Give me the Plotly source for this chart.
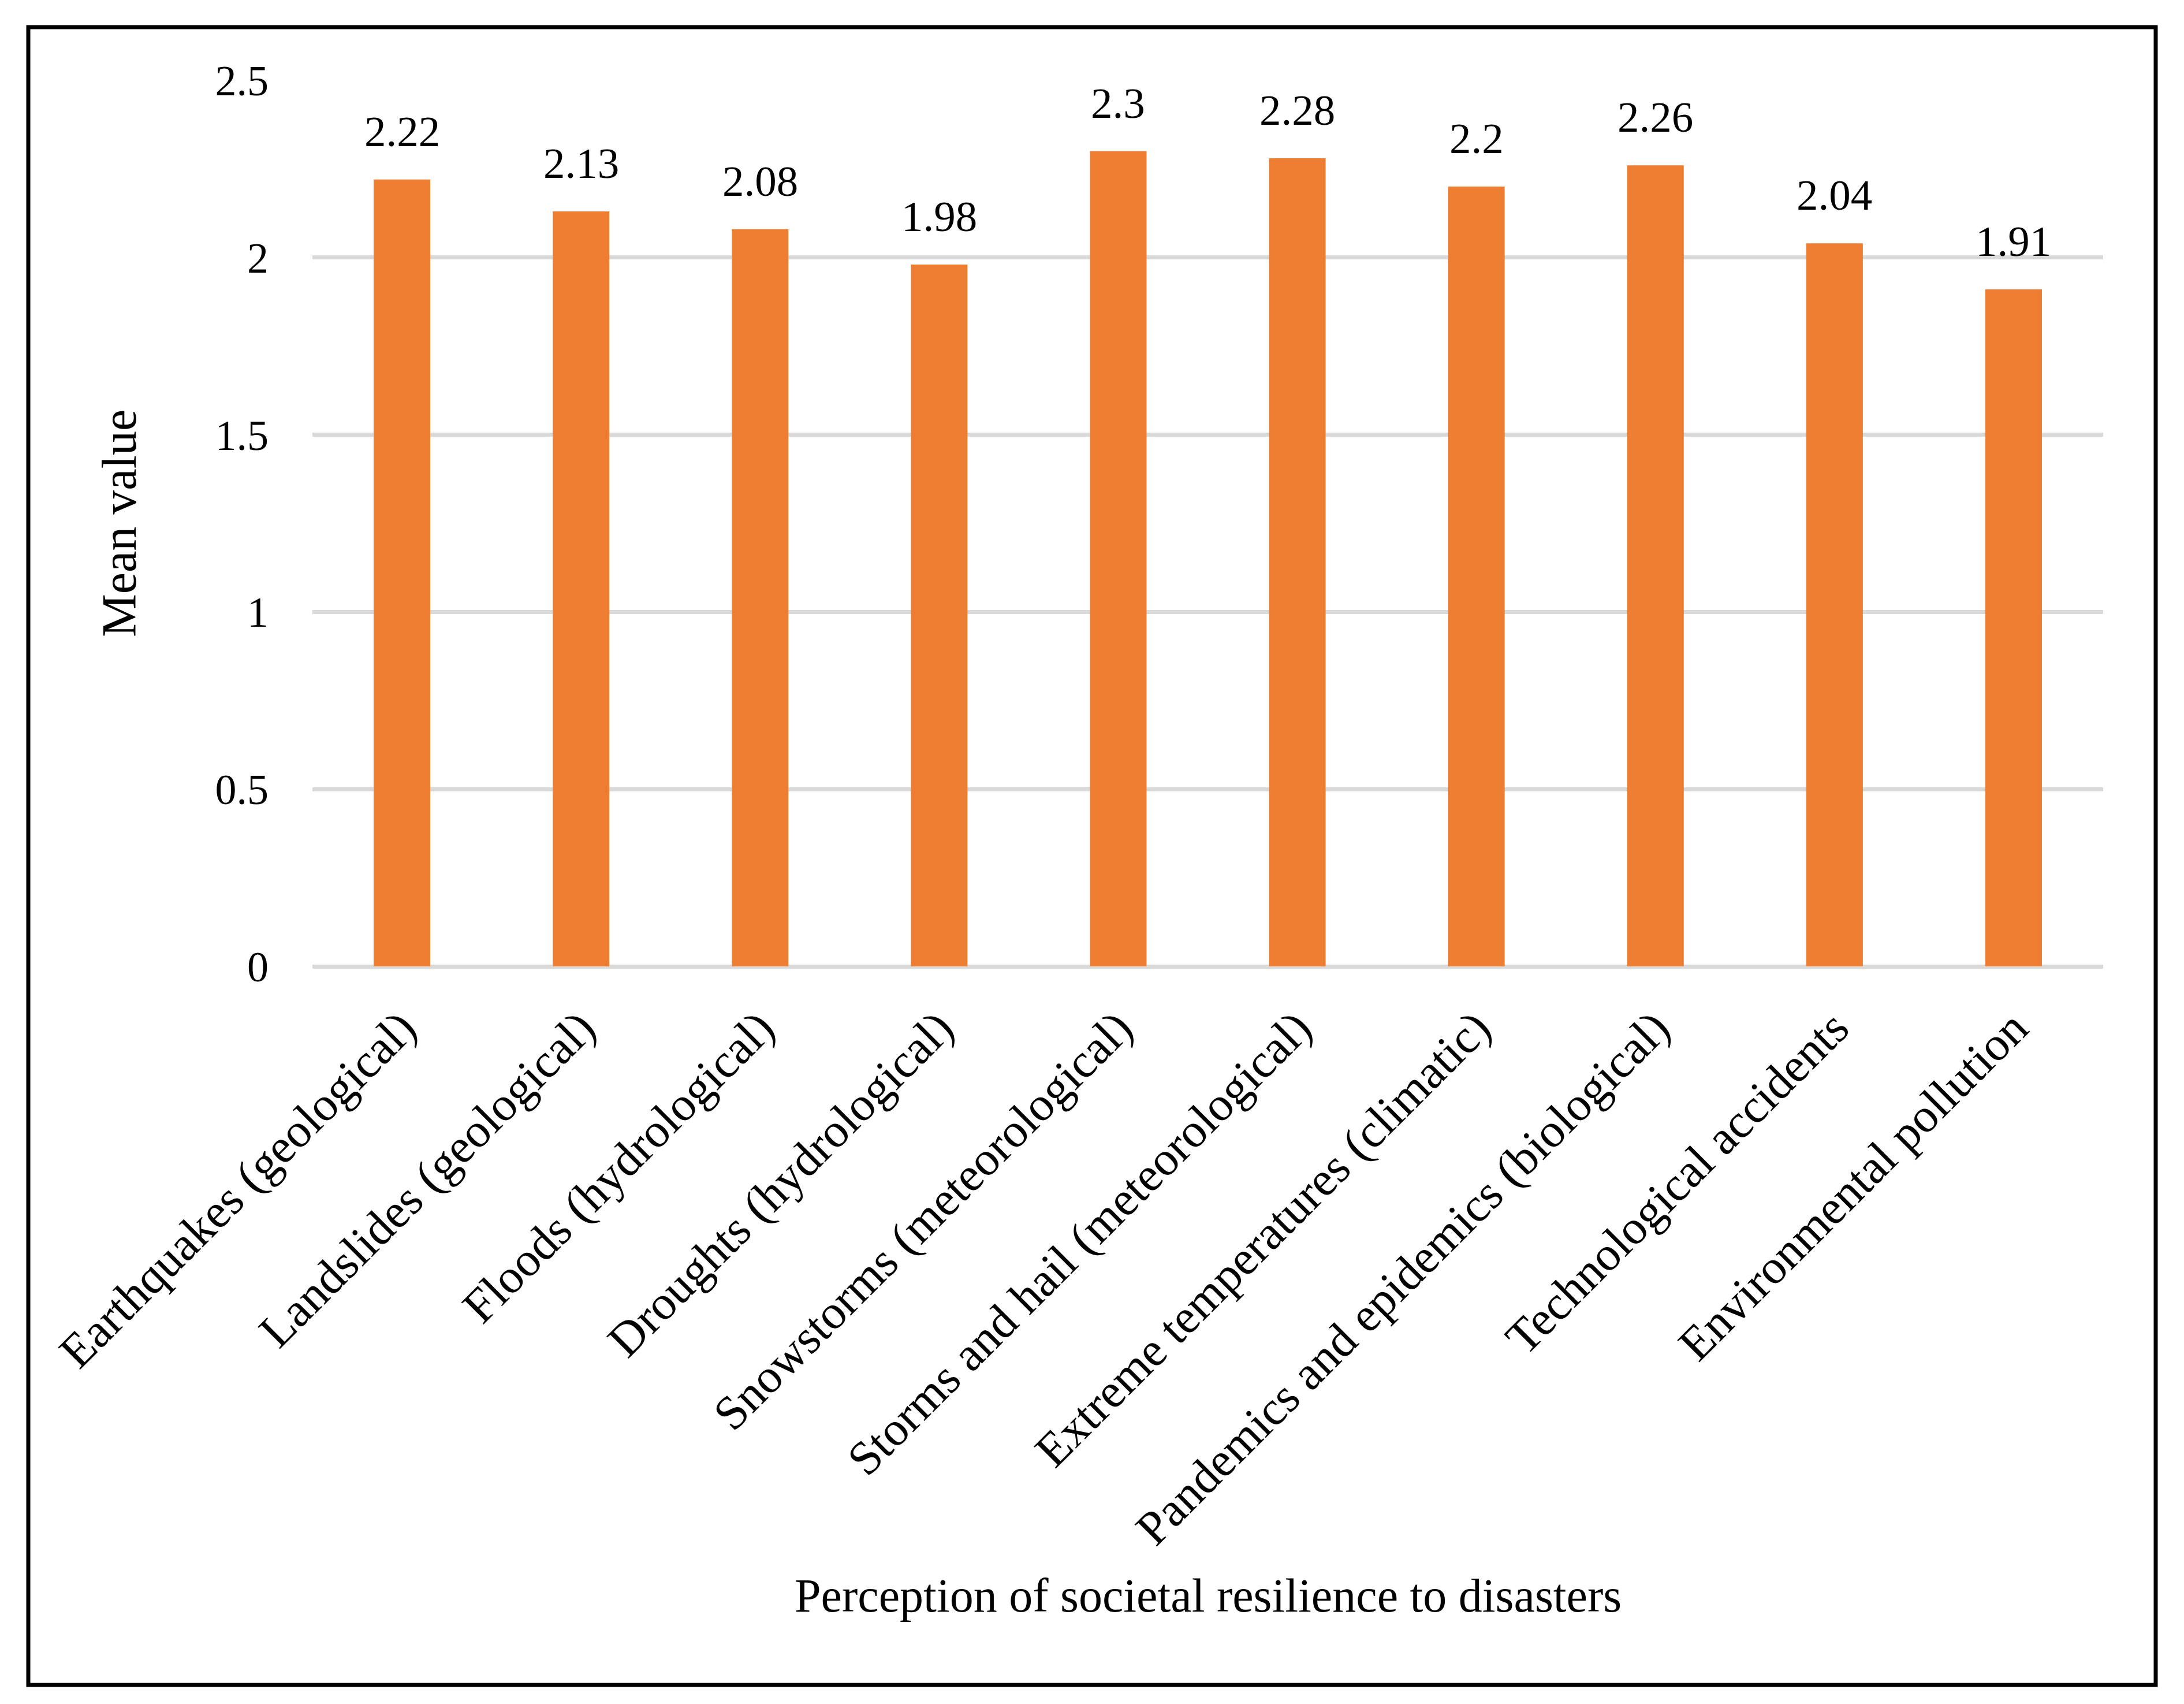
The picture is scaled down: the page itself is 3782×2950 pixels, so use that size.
import plotly.graph_objects as go

categories = [
    "Earthquakes (geological)",
    "Landslides (geological)",
    "Floods (hydrological)",
    "Droughts (hydrological)",
    "Snowstorms (meteorological)",
    "Storms and hail (meteorological)",
    "Extreme temperatures (climatic)",
    "Pandemics and epidemics (biological)",
    "Technological accidents",
    "Environmental pollution",
]
mean_values = [2.22, 2.13, 2.08, 1.98, 2.30, 2.28, 2.20, 2.26, 2.04, 1.91]
y_tick_values = [0, 0.5, 1, 1.5, 2, 2.5]
y_tick_labels = ["0", "0.5", "1", "1.5", "2", "2.5"]
x_title = "Perception of societal resilience to disasters"
y_title = "Mean value"

W, H = 3782, 2950
PL, PR, PT, PB = 541, 3642, 139, 1673  # plot area in pixels
FONT = "Liberation Serif"


def px_x(px):
    return (px - PL) / (PR - PL)


def px_y(py):
    return (PB - py) / (PB - PT)


fig = go.Figure()
fig.add_trace(go.Bar(
    x=categories,
    y=mean_values,
    marker=dict(color="#ED7D31", line=dict(width=0)),
    showlegend=False,
    hoverinfo="x+y",
))

annotations = []
for c, v in zip(categories, mean_values):
    annotations.append(dict(
        x=c, y=v, xref="x", yref="y", text=f"{v:g}", showarrow=False,
        yanchor="bottom", xanchor="center", yshift=40,
        font=dict(family=FONT, size=75, color="black"),
    ))
annotations.append(dict(
    x=0.5, y=px_y(2762), xref="paper", yref="paper", text=x_title,
    showarrow=False, xanchor="center", yanchor="middle",
    font=dict(family=FONT, size=82, color="black"),
))
annotations.append(dict(
    x=px_x(206), y=0.5, xref="paper", yref="paper", text=y_title,
    showarrow=False, xanchor="center", yanchor="middle", textangle=-90,
    font=dict(family=FONT, size=84, color="black"),
))

fig.update_layout(
    width=W, height=H,
    margin=dict(l=PL, r=W - PR, t=PT, b=H - PB, autoexpand=False),
    paper_bgcolor="white", plot_bgcolor="white",
    bargap=0.684,
    annotations=annotations,
    shapes=[dict(
        type="rect", xref="paper", yref="paper",
        x0=px_x(49), x1=px_x(3733), y0=px_y(2917), y1=px_y(47),
        line=dict(color="black", width=7), fillcolor="rgba(0,0,0,0)",
        layer="above",
    )],
    font=dict(family=FONT, color="black"),
)
fig.update_yaxes(
    range=[0, 2.5], tickvals=y_tick_values, ticktext=y_tick_labels,
    showgrid=True, gridcolor="#D9D9D9", gridwidth=7,
    zeroline=True, zerolinecolor="#D9D9D9", zerolinewidth=7,
    showline=False, ticks="", ticklabelstandoff=75,
    tickfont=dict(family=FONT, size=74, color="black"),
    automargin=False,
)
fig.update_xaxes(
    tickangle=-45, showgrid=False, showline=False, ticks="",
    ticklabelstandoff=40,
    tickfont=dict(family=FONT, size=83, color="black"),
    automargin=False,
)

fig.write_html("out.html")
